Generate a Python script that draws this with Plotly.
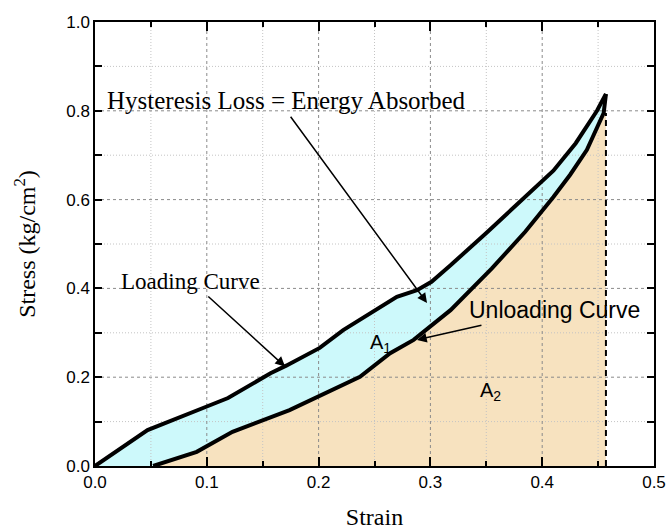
import plotly.graph_objects as go

# Loading curve (upper branch)
loading_x = [0.0, 0.047, 0.1, 0.119, 0.157, 0.171, 0.201, 0.222, 0.27, 0.288, 0.301, 0.318, 0.35, 0.38, 0.41, 0.43, 0.449, 0.457]
loading_y = [0.0, 0.081, 0.134, 0.153, 0.209, 0.226, 0.266, 0.306, 0.381, 0.396, 0.415, 0.452, 0.525, 0.594, 0.665, 0.727, 0.80, 0.838]

# Unloading curve (lower branch), from the tip back down
unloading_x = [0.457, 0.455, 0.44, 0.425, 0.41, 0.385, 0.355, 0.318, 0.285, 0.264, 0.237, 0.174, 0.123, 0.091, 0.052]
unloading_y = [0.838, 0.795, 0.712, 0.656, 0.606, 0.528, 0.445, 0.351, 0.284, 0.254, 0.201, 0.126, 0.077, 0.032, 0.0]

# Max strain marker (dashed vertical)
max_strain = 0.457
max_strain_stress = 0.795

x_major_grid = [0.1, 0.2, 0.3, 0.4]
x_minor_grid = [0.05, 0.15, 0.25, 0.35, 0.45]
y_major_grid = [0.2, 0.4, 0.6, 0.8]
y_minor_grid = [0.1, 0.3, 0.5, 0.7, 0.9]

CYAN = "#cdf9fb"
PEACH = "#f7e2bf"

fig = go.Figure()

# cyan hysteresis loop region
loop_x = loading_x + unloading_x + [loading_x[0]]
loop_y = loading_y + unloading_y + [loading_y[0]]
fig.add_trace(go.Scatter(x=loop_x, y=loop_y, mode="lines", fill="toself",
                         fillcolor=CYAN, line=dict(width=0), hoverinfo="skip", showlegend=False))
# peach region under unloading curve
fig.add_trace(go.Scatter(x=unloading_x, y=unloading_y, mode="lines", fill="tozeroy",
                         fillcolor=PEACH, line=dict(width=0), hoverinfo="skip", showlegend=False))


def vlines(xs):
    gx, gy = [], []
    for v in xs:
        gx += [v, v, None]
        gy += [0, 1, None]
    return gx, gy


def hlines(ys):
    gx, gy = [], []
    for v in ys:
        gx += [0, 0.5, None]
        gy += [v, v, None]
    return gx, gy


gx, gy = vlines(x_minor_grid)
fig.add_trace(go.Scatter(x=gx, y=gy, mode="lines", line=dict(color="#c4c4c4", width=1, dash="1px,2px"),
                         hoverinfo="skip", showlegend=False))
gx, gy = hlines(y_minor_grid)
fig.add_trace(go.Scatter(x=gx, y=gy, mode="lines", line=dict(color="#c4c4c4", width=1, dash="1px,2px"),
                         hoverinfo="skip", showlegend=False))
gx, gy = vlines(x_major_grid)
fig.add_trace(go.Scatter(x=gx, y=gy, mode="lines", line=dict(color="#8a8a8a", width=1, dash="3px,3px"),
                         hoverinfo="skip", showlegend=False))
gx, gy = hlines(y_major_grid)
fig.add_trace(go.Scatter(x=gx, y=gy, mode="lines", line=dict(color="#8a8a8a", width=1, dash="3px,3px"),
                         hoverinfo="skip", showlegend=False))

# dashed vertical at maximum strain
fig.add_trace(go.Scatter(x=[max_strain, max_strain], y=[0, max_strain_stress], mode="lines",
                         line=dict(color="black", width=2, dash="6px,4px"), hoverinfo="skip", showlegend=False))

# curves
fig.add_trace(go.Scatter(x=loading_x, y=loading_y, mode="lines", line=dict(color="black", width=4),
                         showlegend=False))
fig.add_trace(go.Scatter(x=unloading_x, y=unloading_y, mode="lines", line=dict(color="black", width=4),
                         showlegend=False))

serif = "Liberation Serif, Times New Roman, serif"
sans = "Liberation Sans, Arial, sans-serif"

ann = []
# arrows
ann.append(dict(x=0.297, y=0.367, ax=0.174, ay=0.79, xref="x", yref="y", axref="x", ayref="y",
                showarrow=True, arrowhead=2, arrowsize=1.3, arrowwidth=1.5, arrowcolor="black", text=""))
ann.append(dict(x=0.17, y=0.224, ax=0.1, ay=0.385, xref="x", yref="y", axref="x", ayref="y",
                showarrow=True, arrowhead=2, arrowsize=1.3, arrowwidth=1.5, arrowcolor="black", text=""))
ann.append(dict(x=0.288, y=0.284, ax=0.347, ay=0.318, xref="x", yref="y", axref="x", ayref="y",
                showarrow=True, arrowhead=2, arrowsize=1.3, arrowwidth=1.5, arrowcolor="black", text=""))
# texts
ann.append(dict(x=0.171, y=0.824, xref="x", yref="y", text="Hysteresis Loss = Energy Absorbed",
                showarrow=False, font=dict(family=serif, size=25, color="black")))
ann.append(dict(x=0.085, y=0.416, xref="x", yref="y", text="Loading Curve",
                showarrow=False, font=dict(family=serif, size=23, color="black")))
ann.append(dict(x=0.411, y=0.352, xref="x", yref="y", text="Unloading Curve",
                showarrow=False, font=dict(family=sans, size=23, color="black")))
ann.append(dict(x=0.255, y=0.275, xref="x", yref="y", text="A<sub>1</sub>",
                showarrow=False, font=dict(family=sans, size=20, color="black")))
ann.append(dict(x=0.354, y=0.168, xref="x", yref="y", text="A<sub>2</sub>",
                showarrow=False, font=dict(family=sans, size=20, color="black")))

fig.update_layout(
    width=667, height=530,
    margin=dict(l=95, r=13, t=22, b=64),
    plot_bgcolor="white", paper_bgcolor="white",
    annotations=ann,
    showlegend=False,
)
fig.update_xaxes(range=[0, 0.5], dtick=0.1, tickformat=".1f", showgrid=False, zeroline=False,
                 showline=True, linecolor="black", linewidth=1.5, mirror="allticks", automargin=False,
                 ticks="inside", ticklen=9, tickwidth=1.5, tickcolor="black",
                 minor=dict(dtick=0.05, ticks="inside", ticklen=5, tickwidth=1.5, tickcolor="black", showgrid=False),
                 tickfont=dict(family=sans, size=17, color="black"),
                 title=dict(text="Strain", font=dict(family=serif, size=24, color="black"), standoff=18))
fig.update_yaxes(range=[0, 1], dtick=0.2, tickformat=".1f", showgrid=False, zeroline=False,
                 showline=True, linecolor="black", linewidth=1.5, mirror="allticks", automargin=False,
                 ticks="inside", ticklen=7, tickwidth=1.5, tickcolor="black",
                 minor=dict(dtick=0.1, ticks="inside", ticklen=7, tickwidth=1.5, tickcolor="black", showgrid=False),
                 tickfont=dict(family=sans, size=17, color="black"),
                 title=dict(text="Stress (kg/cm<sup>2</sup>)", font=dict(family=serif, size=24, color="black"), standoff=24))

fig.write_html("out.html")
